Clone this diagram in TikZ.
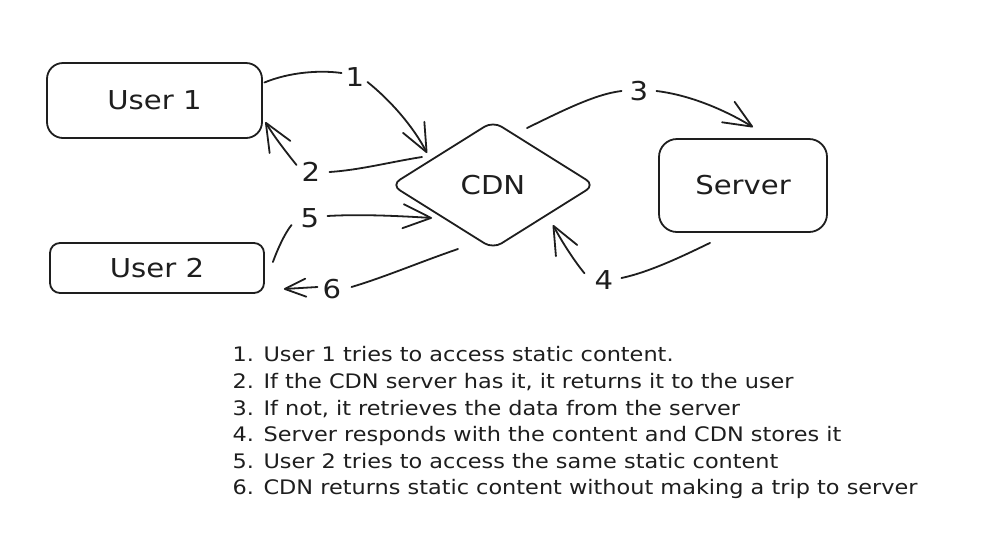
\documentclass[tikz,border=0pt]{standalone}
\usepackage{fontspec}
\setmainfont[FakeStretch=1.12]{DejaVu Sans}
\usetikzlibrary{arrows.meta,shapes.geometric}
\definecolor{inkc}{HTML}{1E1E1E}
\begin{document}
\begin{tikzpicture}[x=1pt,y=-1pt,
  ink/.style={draw=inkc, line width=1.8pt, line cap=round, line join=round},
  boxnode/.style={ink, rounded corners=#1, inner sep=0pt, text=inkc,
    font=\fontsize{26}{30}\selectfont},
  num/.style={inner sep=0pt, text=inkc, font=\fontsize{26}{30}\selectfont},
  seg/.style={ink},
  link/.style={ink, -{Straight Barb[length=28pt,width=24pt,round]}},
  slink/.style={ink, -{Straight Barb[length=21pt,width=18pt,round]}},
  legend/.style={anchor=base west, inner sep=0pt, text=inkc,
    font=\fontsize{20}{24}\selectfont}
]
\useasboundingbox (0,0) rectangle (982,547);
\fill[white] (0,0) rectangle (982,547);

% boxes
\node[boxnode=16, minimum width=215pt, minimum height=75pt] (u1) at (154.5,100.5) {User 1};
\node[boxnode=10, minimum width=214pt, minimum height=50pt] (u2) at (157,268) {User 2};
\node[boxnode=18, minimum width=168pt, minimum height=93pt] (srv) at (743,185.5) {Server};
\node[ink, diamond, rounded corners=10pt, inner sep=0pt, text=inkc,
  minimum width=204pt, minimum height=128pt, aspect=1.6,
  font=\fontsize{26}{30}\selectfont] (cdn) at (493,185) {CDN};

% labels
\node[num] (n1) at (355,77) {1};
\node[num] (n2) at (311,172) {2};
\node[num] (n3) at (639,91) {3};
\node[num] (n4) at (604,280) {4};
\node[num] (n5) at (310,218) {5};
\node[num] (n6) at (332,289) {6};

% arrow 1
\draw[seg] ([xshift=1.5pt,yshift=18pt]u1.east) .. controls (290,72) and (320,70) .. ([xshift=-4pt,yshift=4pt]n1.west);
\draw[link] ([xshift=3pt,yshift=-5pt]n1.east) .. controls (390,100) and (413,126) .. ([xshift=-66pt,yshift=32pt]cdn.center);
% arrow 2
\draw[seg] ([xshift=-71pt,yshift=28pt]cdn.center) .. controls (390,162) and (360,170) .. ([xshift=9pt]n2.east);
\draw[link] ([xshift=-5pt,yshift=7pt]n2.west) .. controls (286,152) and (273,135) .. ([xshift=2.5pt,yshift=-21.5pt]u1.east);
% arrow 3
\draw[seg] ([xshift=34pt,yshift=57pt]cdn.center) .. controls (560,112) and (595,94) .. ([xshift=-8pt]n3.west);
\draw[link] ([xshift=8pt]n3.east) .. controls (690,95) and (725,110) .. ([xshift=10pt,yshift=11pt]srv.north);
% arrow 4
\draw[seg] ([xshift=-33pt,yshift=-10pt]srv.south) .. controls (685,255) and (650,272) .. ([xshift=8pt,yshift=2pt]n4.east);
\draw[link] ([xshift=-10pt,yshift=-3pt]n4.north west) .. controls (575,262) and (562,242) .. ([xshift=60pt,yshift=-40pt]cdn.center);
% arrow 5
\draw[seg] ([xshift=8pt,yshift=6pt]u2.east) .. controls (278,248) and (285,233) .. ([xshift=-9pt,yshift=-7pt]n5.west);
\draw[link] ([xshift=8pt,yshift=2pt]n5.east) .. controls (360,214) and (400,216) .. ([xshift=-61pt,yshift=-33pt]cdn.center);
% arrow 6
\draw[seg] ([xshift=-35pt,yshift=-64pt]cdn.center) .. controls (420,262) and (385,277) .. ([xshift=10pt,yshift=2pt]n6.east);
\draw[slink] ([xshift=-5pt,yshift=2pt]n6.west) -- ([xshift=19pt,yshift=-21pt]u2.east);

% legend
\node[legend] (l1) at (232.5,361.7) {1. User 1 tries to access static content.};
\node[legend] (l2) at (232.5,388.3) {2. If the CDN server has it, it returns it to the user};
\node[legend] (l3) at (232.5,415) {3. If not, it retrieves the data from the server};
\node[legend] (l4) at (232.5,441.7) {4. Server responds with the content and CDN stores it};
\node[legend] (l5) at (232.5,468.2) {5. User 2 tries to access the same static content};
\node[legend] (l6) at (232.5,494.8) {6. CDN returns static content without making a trip to server};
\end{tikzpicture}
\end{document}
